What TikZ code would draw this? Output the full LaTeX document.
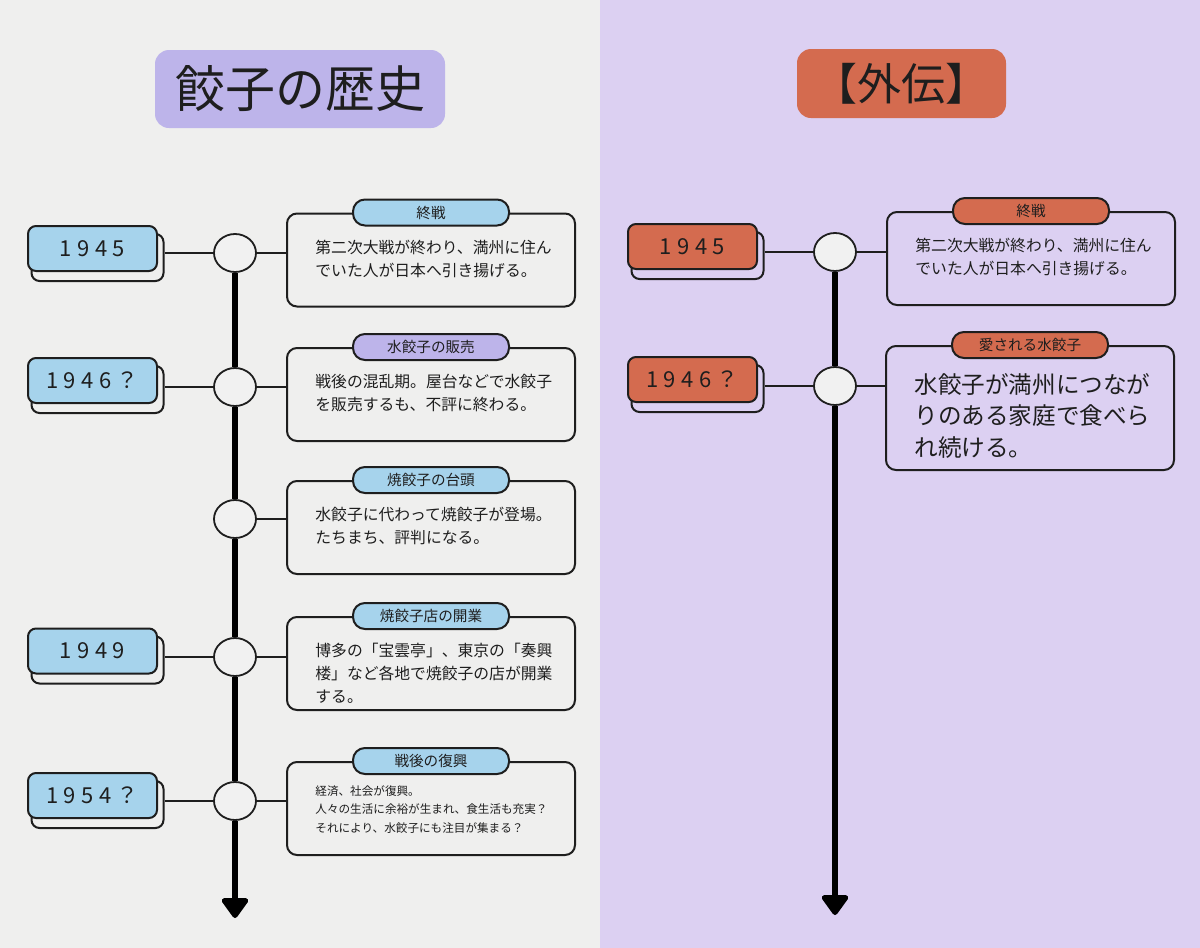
\documentclass[tikz,border=0pt]{standalone}
\usepackage{fontspec}
\setmainfont{Noto Sans CJK JP}
\newfontfamily\yearfont[LetterSpace=25]{Noto Sans CJK JP}
\usepackage{xcolor}
\usepackage{tikz}
\usetikzlibrary{shapes.geometric,arrows.meta}

\definecolor{paper}{HTML}{EFEFEE}
\definecolor{lilacbg}{HTML}{DCD0F2}
\definecolor{lilac}{HTML}{BDB4EA}
\definecolor{skyblue}{HTML}{A6D3EC}
\definecolor{brick}{HTML}{D46B4F}
\definecolor{dotfill}{HTML}{F1F1F1}
\definecolor{ink}{HTML}{1E1E1E}

\begin{document}
\begin{tikzpicture}[x=0.5pt,y=-0.5pt,
				heading/.style={rounded corners=7pt,inner sep=0pt,text=ink},
				yearbox/.style={draw=ink,line width=1pt,rounded corners=4pt,fill=skyblue,
					minimum width=64.5pt,minimum height=22.5pt,inner sep=0pt,
					font=\yearfont\fontsize{11}{13}\selectfont,text=ink},
				yearshadow/.style={draw=ink,line width=1pt,rounded corners=4pt,
					minimum width=66pt,minimum height=23.5pt,inner sep=0pt},
				dot/.style={ellipse,draw=ink,line width=0.9pt,fill=dotfill,
					minimum width=21pt,minimum height=19pt,inner sep=0pt},
				eventbox/.style={draw=ink,line width=1pt,rounded corners=5pt,
					minimum width=144pt,inner sep=0pt},
				tag/.style={draw=ink,line width=1pt,rounded corners=6pt,
					minimum width=78pt,minimum height=13pt,inner sep=0pt,
					font=\fontsize{7.3}{9}\selectfont,text=ink},
				note/.style={anchor=north west,align=left,inner sep=0pt,text=ink,
					font=\fontsize{7.9}{11.5}\selectfont},
				link/.style={draw=ink,line width=0.7pt},
				spine/.style={draw=black,line width=2.6pt}]
				
				% Backgrounds
				\useasboundingbox (0,0) rectangle (1200,948);
				\fill[paper] (0,0) rectangle (600,948);
				\fill[lilacbg] (600,0) rectangle (1200,948);
				
				% Headings
				\node[heading,fill=lilac,minimum width=145pt,minimum height=39pt,
					font=\fontsize{25}{30}\selectfont] (head) at (300,89) {餃子の歴史};
				\node[heading,fill=brick,minimum width=104.5pt,minimum height=34.5pt,
					font=\fontsize{22}{26}\selectfont] (side) at (901.5,83.5) {【外伝】};
				
				% Left timeline
				\foreach \i/\y in {1/253,2/387,3/519,4/657,5/801}
				\node[dot] (c\i) at (235,\y) {};
				\coordinate (endL) at (235,918);
				
				\foreach \i/\y/\c/\t in {1/260/skyblue/終戦,2/394.5/lilac/水餃子の販売,
					3/527.5/skyblue/焼餃子の台頭,4/663.5/skyblue/焼餃子店の開業,5/808.5/skyblue/戦後の復興}
				{
				\node[eventbox,minimum height=46.5pt] (e\i) at (431,\y) {};
				\node[tag,fill=\c] (t\i) at (e\i.north) {\t};
				\draw[link] (c\i.east) -- (c\i -| e\i.west);
				}
				
				\foreach \i/\y/\t in {1/248.5/1945,2/380.5/1946？,4/651/1949,5/795.5/1954？}
				{
				\node[yearshadow] (s\i) at (97.5,\y+9) {};
				\node[yearbox] (y\i) at (92.5,\y) {\t};
				\draw[link] (c\i.west) -- (c\i -| s\i.east);
				}
				
				\draw[spine] (c1) -- (c2);
				\draw[spine] (c2) -- (c3);
				\draw[spine] (c3) -- (c4);
				\draw[spine] (c4) -- (c5);
				\draw[spine,-{Triangle[width=15pt,length=11pt,round]}] (c5) -- (endL);
				
				% Left texts
				\node[note] (n1) at ([shift={(29,27)}]e1.north west)
				{第二次大戦が終わり、満州に住ん\\でいた人が日本へ引き揚げる。};
				\node[note] (n2) at ([shift={(29,27)}]e2.north west)
				{戦後の混乱期。屋台などで水餃子\\を販売するも、不評に終わる。};
				\node[note] (n3) at ([shift={(29,27)}]e3.north west)
				{水餃子に代わって焼餃子が登場。\\たちまち、評判になる。};
				\node[note] (n4) at ([shift={(29,27)}]e4.north west)
				{博多の「宝雲亭」、東京の「奏興\\楼」など各地で焼餃子の店が開業\\する。};
				\node[note,font=\fontsize{5.8}{9.2}\selectfont] (n5) at ([shift={(29,24)}]e5.north west)
				{経済、社会が復興。\\人々の生活に余裕が生まれ、食生活も充実？\\それにより、水餃子にも注目が集まる？};
				
				% Right timeline
				\node[dot] (d1) at (835,252) {};
				\node[dot] (d2) at (835,386) {};
				\coordinate (endR) at (835,915);
				
				\node[eventbox,minimum height=46.5pt] (f1) at (1031,258.5) {};
				\node[tag,fill=brick] (u1) at (f1.north) {終戦};
				\node[eventbox,minimum height=62pt] (f2) at (1030,408) {};
				\node[tag,fill=brick] (u2) at (f2.north) {愛される水餃子};
				
				\foreach \i/\y/\t in {1/246.5/1945,2/379.5/1946？}
				{
				\node[yearshadow] (r\i) at (697.5,\y+9) {};
				\node[yearbox,fill=brick] (x\i) at (692.5,\y) {\t};
				\draw[link] (d\i.west) -- (d\i -| r\i.east);
				\draw[link] (d\i.east) -- (d\i -| f\i.west);
				}
				
				\draw[spine] (d1) -- (d2);
				\draw[spine,-{Triangle[width=15pt,length=11pt,round]}] (d2) -- (endR);
				
				% Right texts
				\node[note] (m1) at ([shift={(29,27)}]f1.north west)
				{第二次大戦が終わり、満州に住ん\\でいた人が日本へ引き揚げる。};
				\node[note,font=\fontsize{11.8}{15.8}\selectfont] (m2) at ([shift={(29,28)}]f2.north west)
				{水餃子が満州につなが\\りのある家庭で食べら\\れ続ける。};
			\end{tikzpicture}
\end{document}
